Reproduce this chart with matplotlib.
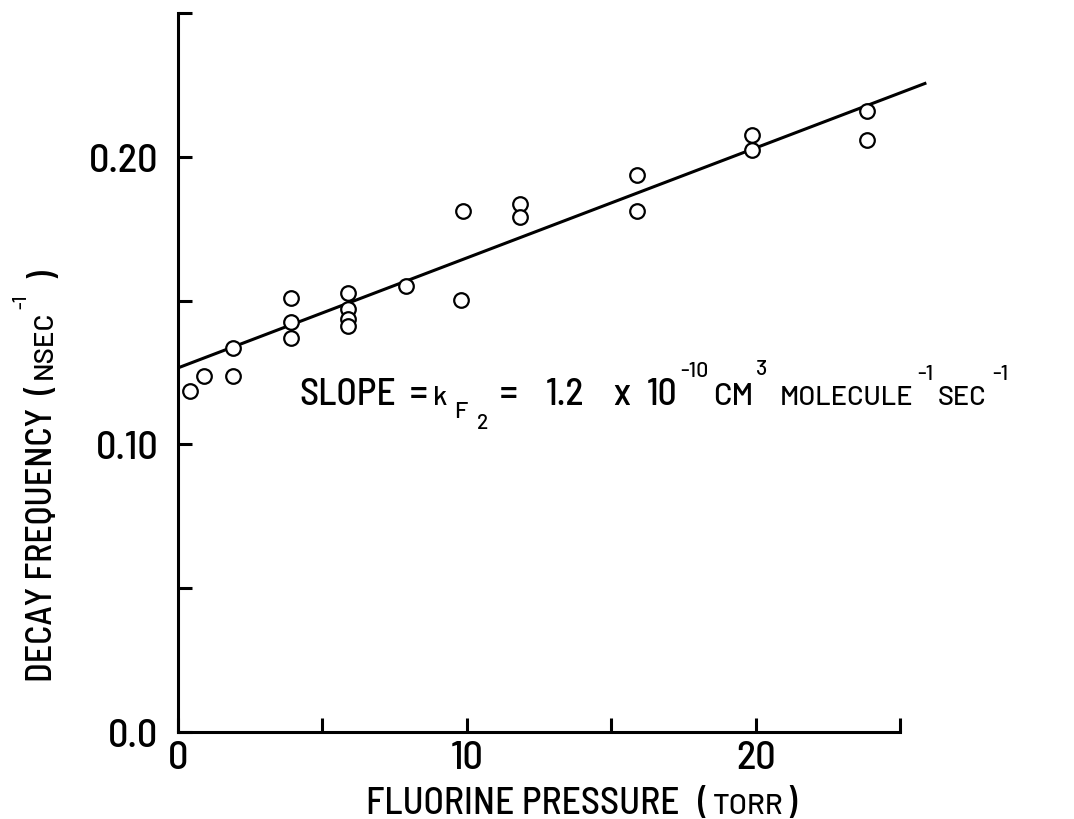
import matplotlib
matplotlib.use("Agg")
import matplotlib.pyplot as plt
import matplotlib.ticker as mticker
from matplotlib.transforms import IdentityTransform
import numpy as np

# narrow lettering for the big caps, wider face for the small caps
MAIN = ["Barlow Semi Condensed", "DejaVu Sans"]
SMALL = ["Barlow", "DejaVu Sans"]
plt.rcParams["font.family"] = MAIN
plt.rcParams["font.stretch"] = "condensed"
plt.rcParams["font.weight"] = 500

# ---------- data ----------
pressure_torr = [0.4, 0.9, 1.9, 1.9, 3.9, 3.9, 3.9, 5.9, 5.9, 5.9, 5.9,
                 7.9, 9.8, 9.85, 11.85, 11.85, 15.9, 15.9, 19.85, 19.85,
                 23.85, 23.85]
decay_freq = [0.1186, 0.1238, 0.1238, 0.1336, 0.151, 0.1426, 0.137,
              0.1527, 0.1471, 0.1437, 0.1412, 0.1551, 0.1503, 0.1812,
              0.1837, 0.1791, 0.1937, 0.1812, 0.2077, 0.2024, 0.216, 0.2059]

fit_x = [0.0, 25.9]
fit_intercept = 0.1266
fit_slope = 0.003826

x_ticks = [0, 5, 10, 15, 20, 25]
x_ticklabels = ["0", "", "10", "", "20", ""]
y_ticks = [0.0, 0.05, 0.10, 0.15, 0.20, 0.25]
y_ticklabels = ["0.0", "", "0.10", "", "0.20", ""]

LW = 2.2
W, H = 1074, 820

fig = plt.figure(figsize=(10.74, 8.2), dpi=100)
ax = fig.add_axes([0.1657, 0.1061, 0.6995, 0.8768])
rend = fig.canvas.get_renderer()


def put(x, y, s, size, rot=0, small=False, ha="center"):
    # x, y in pixels from the top-left corner; y is the baseline.
    # returns the far end of the text along its direction (pixels)
    kw = dict(fontsize=size, ha=ha, va="baseline",
              transform=IdentityTransform())
    if small:
        kw.update(family=SMALL, stretch="normal")
    if rot:
        kw.update(rotation=90, rotation_mode="anchor")
    t = fig.text(x, H - y, s, **kw)
    bb = t.get_window_extent(rend)
    return bb.x1 if not rot else H - bb.y1


fx = np.array(fit_x)
ax.plot(fx, fit_intercept + fit_slope * fx, color="black", lw=LW,
        solid_capstyle="butt", clip_on=False, zorder=2)
ax.plot(pressure_torr, decay_freq, linestyle="none", marker="o",
        markersize=10.5, markerfacecolor="white", markeredgecolor="black",
        markeredgewidth=1.6, zorder=3, clip_on=False)

ax.set_xlim(0, 26)
ax.set_ylim(0, 0.25)

for side in ["top", "right"]:
    ax.spines[side].set_visible(False)
for side in ["left", "bottom"]:
    ax.spines[side].set_linewidth(LW)
ax.spines["bottom"].set_bounds(0, 25)

ax.xaxis.set_major_locator(mticker.FixedLocator(x_ticks))
ax.xaxis.set_major_formatter(mticker.FixedFormatter(x_ticklabels))
ax.yaxis.set_major_locator(mticker.FixedLocator(y_ticks))
ax.yaxis.set_major_formatter(mticker.FixedFormatter(y_ticklabels))
ax.tick_params(axis="both", direction="in", length=10, width=LW,
               labelsize=29)
ax.tick_params(axis="x", pad=6)
ax.tick_params(axis="y", pad=14)

# x label, unit in small caps
e = put(523, 814, "FLUORINE PRESSURE", 27)
e = put(e + 18, 814, "(", 27, ha="left")
e = put(e + 5, 814, "TORR", 21, small=True, ha="left")
put(e + 3, 814, ")", 27, ha="left")

# y label, rotated (runs upward, "end" is the top)
e = put(52, 682, "DECAY FREQUENCY", 26, rot=90, ha="left")
e = put(52, e - 14, "(", 26, rot=90, ha="left")
e = put(52, e - 5, "NSEC", 20, rot=90, small=True, ha="left")
e = put(26, e - 2, "-1", 14, rot=90, small=True, ha="left")
put(52, e - 16, ")", 26, rot=90, ha="left")

# slope annotation
put(348, 405, "SLOPE", 27)
put(419, 405, "=", 27)
put(440, 405, "k", 20, small=True)
put(461, 418, "F", 17, small=True)
put(483, 429, "2", 15, small=True)
put(509, 405, "=", 27)
put(565, 405, "1.2", 27)
put(622, 405, "x", 27)
e = put(677, 405, "10", 27, ha="right")
e = put(e + 3, 377, "-10", 15.5, small=True, ha="left")
e = put(e + 5, 405, "CM", 22, small=True, ha="left")
e = put(e + 2, 375, "3", 15.5, small=True, ha="left")
e = put(e + 13, 405, "MOLECULE", 19.5, small=True, ha="left")
e = put(e + 4, 380, "-1", 15.5, small=True, ha="left")
e = put(e + 4, 405, "SEC", 19.5, small=True, ha="left")
put(e + 6, 380, "-1", 15.5, small=True, ha="left")

fig.savefig("out.png", dpi=100)
